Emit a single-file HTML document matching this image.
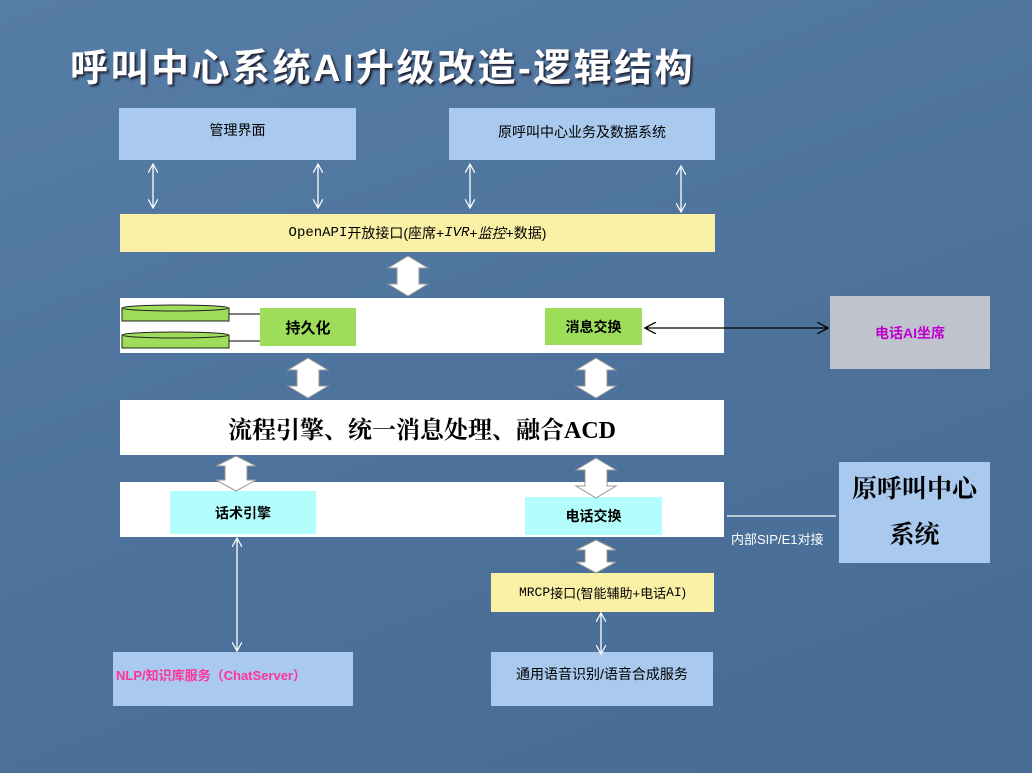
<!DOCTYPE html>
<html><head><meta charset="utf-8"><style>
body{margin:0;width:1032px;height:773px;overflow:hidden;background:#52779f;position:relative;font-family:"Liberation Sans","Noto Sans CJK SC",sans-serif}
.b{position:absolute;box-sizing:border-box;display:flex;align-items:center;justify-content:center;text-align:center}
.t{font-size:14px;color:#000}
</style></head><body>
<div style="position:absolute;inset:0;background:linear-gradient(160deg,#567da6 0%,#4d739d 50%,#466c96 100%)"></div>
<div style="position:absolute;left:70px;top:37px;font-size:38px;color:#fff;text-shadow:2px 2px 2px #223;font-family:'Liberation Sans','Noto Sans CJK SC',sans-serif;letter-spacing:2.5px;font-weight:bold">呼叫中心系统AI升级改造-逻辑结构</div>

<div class="b t" style="left:119px;top:108px;width:237px;height:52px;background:#a9caee;align-items:flex-start;padding-top:12px">管理界面</div>
<div class="b t" style="left:449px;top:108px;width:266px;height:52px;background:#a9caee;align-items:flex-start;padding-top:14px">原呼叫中心业务及数据系统</div>
<div class="b t" style="left:120px;top:214px;width:595px;height:38px;background:#fbf1a6;font-size:14px"><span style="font-family:'Liberation Mono','Noto Sans CJK SC',monospace">OpenAPI</span>开放接口(座席+<i style="font-family:'Liberation Mono',monospace">IVR</i>+<i>监控</i>+数据)</div>

<div class="b" style="left:120px;top:298px;width:604px;height:55px;background:#fff"></div>
<div class="b" style="left:260px;top:308px;width:96px;height:38px;background:#9ddd5a;font-weight:bold;font-size:15px">持久化</div>
<div class="b" style="left:545px;top:308px;width:97px;height:37px;background:#9ddd5a;font-weight:bold;font-size:14px">消息交换</div>
<div class="b" style="left:830px;top:296px;width:160px;height:73px;background:#bec3cc;color:#c000d0;font-weight:bold;font-size:14px">电话AI坐席</div>

<div class="b" style="left:120px;top:400px;width:604px;height:55px;background:#fff;font-weight:bold;font-size:24px;font-family:'Liberation Serif','Noto Serif CJK SC',serif">流程引擎、统一消息处理、融合ACD</div>

<div class="b" style="left:120px;top:482px;width:604px;height:55px;background:#fff"></div>
<div class="b" style="left:170px;top:491px;width:146px;height:43px;background:#b3fdfd;font-weight:bold;font-size:14px">话术引擎</div>
<div class="b" style="left:525px;top:497px;width:137px;height:38px;background:#b3fdfd;font-weight:bold;font-size:14px">电话交换</div>
<div class="b" style="left:839px;top:462px;width:151px;height:101px;background:#a9caee;font-size:25px;line-height:46px;font-weight:bold;font-family:'Liberation Serif','Noto Serif CJK SC',serif">原呼叫中心<br>系统</div>
<div style="position:absolute;left:731px;top:529px;color:#fff;font-size:13px">内部SIP/E1对接</div>

<div class="b" style="left:491px;top:573px;width:223px;height:39px;background:#fbf1a6;font-size:13px"><span style="font-family:'Liberation Mono',monospace">MRCP</span>接口(智能辅助+电话<span style="font-family:'Liberation Mono',monospace">AI</span>)</div>
<div class="b" style="left:113px;top:652px;width:240px;height:54px;background:#a9caee;color:#ff3399;font-weight:bold;font-size:13px;justify-content:flex-start;padding-left:3px;align-items:flex-start;padding-top:13px">NLP/知识库服务（ChatServer）</div>
<div class="b t" style="left:491px;top:652px;width:222px;height:54px;background:#a9caee;align-items:flex-start;padding-top:12px">通用语音识别/语音合成服务</div>

<svg width="1032" height="773" style="position:absolute;left:0;top:0" xmlns="http://www.w3.org/2000/svg">
<defs>
<marker id="w" markerWidth="10" markerHeight="10" refX="9" refY="5" orient="auto-start-reverse" markerUnits="userSpaceOnUse"><path d="M0,0 L9,5 L0,10" fill="none" stroke="#fff" stroke-width="1.2"/></marker>
<marker id="k" markerWidth="12" markerHeight="12" refX="11" refY="6" orient="auto-start-reverse" markerUnits="userSpaceOnUse"><path d="M0,0 L11,6 L0,12" fill="none" stroke="#000" stroke-width="1.3"/></marker>
</defs>
<g stroke="#fff" stroke-width="1.3" fill="none">
<line x1="153" y1="164" x2="153" y2="208" marker-start="url(#w)" marker-end="url(#w)"/>
<line x1="318" y1="164" x2="318" y2="208" marker-start="url(#w)" marker-end="url(#w)"/>
<line x1="470" y1="164" x2="470" y2="208" marker-start="url(#w)" marker-end="url(#w)"/>
<line x1="681" y1="166" x2="681" y2="212" marker-start="url(#w)" marker-end="url(#w)"/>
<line x1="237" y1="538" x2="237" y2="651" marker-start="url(#w)" marker-end="url(#w)"/>
<line x1="601" y1="613" x2="601" y2="654" marker-start="url(#w)" marker-end="url(#w)"/>
<line x1="727" y1="516" x2="836" y2="516"/>
</g>
<line x1="645" y1="328" x2="828" y2="328" stroke="#000" stroke-width="1.3" marker-start="url(#k)" marker-end="url(#k)"/>
<g fill="#9ddd5a" stroke="#222" stroke-width="1">
<rect x="122" y="308" width="107" height="13"/><ellipse cx="175.5" cy="308" rx="53.5" ry="3"/>
<rect x="122" y="335" width="107" height="13"/><ellipse cx="175.5" cy="335" rx="53.5" ry="3"/>
</g>
<g stroke="#000" stroke-width="1"><line x1="229" y1="314" x2="260" y2="314"/><line x1="229" y1="341" x2="260" y2="341"/></g>
<g fill="#fff" stroke="#999" stroke-width="1">
<polygon points="408,256 428,268 419,268 419,284 428,284 408,296 388,284 397,284 397,268 388,268"/>
<polygon points="308,358 328,370 319,370 319,386 328,386 308,398 288,386 297,386 297,370 288,370"/>
<polygon points="596,358 616,370 607,370 607,386 616,386 596,398 576,386 585,386 585,370 576,370"/>
<polygon points="236,456 256,466 247,466 247,480 256,480 236,491 216,480 225,480 225,466 216,466"/>
<polygon points="596,458 616,470 607,470 607,486 616,486 596,498 576,486 585,486 585,470 576,470"/>
<polygon points="596,540 616,550 607,550 607,562 616,562 596,573 576,562 585,562 585,550 576,550"/>
</g>
</svg>
</body></html>
